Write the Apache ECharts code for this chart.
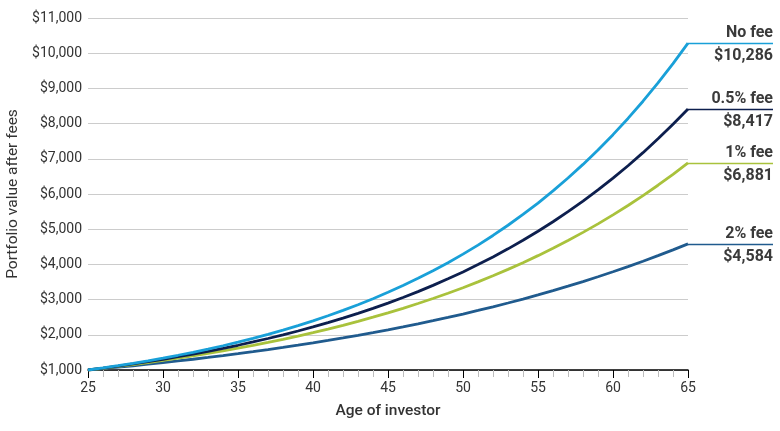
<!DOCTYPE html>
<html>
<head>
<meta charset="utf-8">
<script src="https://cdn.jsdelivr.net/npm/echarts@6/dist/echarts.min.js"></script>
<style>
  html, body { margin: 0; padding: 0; background: #fff; }
  #chart { width: 780px; height: 431px; }
</style>
</head>
<body>
<div id="chart"></div>
<script>
// ages 25..65
const ages = [25, 26, 27, 28, 29, 30, 31, 32, 33, 34, 35, 36, 37, 38, 39, 40, 41, 42, 43, 44, 45,
  46, 47, 48, 49, 50, 51, 52, 53, 54, 55, 56, 57, 58, 59, 60, 61, 62, 63, 64, 65];

const noFee = [1000, 1060, 1124, 1191, 1262, 1338, 1419, 1504, 1594, 1689, 1791, 1898, 2012, 2133,
  2261, 2397, 2540, 2693, 2854, 3026, 3207, 3400, 3604, 3820, 4049, 4292, 4549, 4822, 5112, 5418,
  5743, 6088, 6453, 6841, 7251, 7686, 8147, 8636, 9154, 9704, 10286];
const halfFee = [1000, 1055, 1112, 1173, 1237, 1305, 1377, 1452, 1531, 1615, 1703, 1797, 1895, 1998,
  2108, 2223, 2345, 2473, 2608, 2751, 2901, 3060, 3227, 3404, 3590, 3787, 3994, 4212, 4442, 4685,
  4942, 5212, 5497, 5798, 6115, 6449, 6802, 7174, 7567, 7981, 8417];
const oneFee = [1000, 1049, 1101, 1156, 1213, 1273, 1336, 1402, 1471, 1543, 1620, 1700, 1784, 1872,
  1964, 2061, 2163, 2270, 2382, 2500, 2623, 2753, 2889, 3032, 3181, 3338, 3503, 3676, 3858, 4049,
  4249, 4459, 4679, 4910, 5152, 5407, 5674, 5954, 6249, 6557, 6881];
const twoFee = [1000, 1039, 1079, 1121, 1165, 1210, 1257, 1305, 1356, 1409, 1463, 1520, 1579, 1640,
  1704, 1770, 1839, 1910, 1984, 2061, 2141, 2224, 2311, 2400, 2493, 2590, 2691, 2795, 2903, 3016,
  3133, 3255, 3381, 3512, 3648, 3790, 3937, 4090, 4248, 4413, 4584];

const seriesNames = ['No fee', '0.5% fee', '1% fee', '2% fee'];
const seriesData = [noFee, halfFee, oneFee, twoFee];
const colors = ['#19a0d8', '#0d1f4e', '#a9c23c', '#205b8e'];

const FONT = 'Roboto, "Liberation Sans", sans-serif';
const TEXT = '#333333';

const chart = echarts.init(document.getElementById('chart'));

const option = {
  animation: false,
  grid: { left: 88, right: 92, top: 18, bottom: 61, outerBoundsMode: 'none', containLabel: false },
  xAxis: {
    type: 'value',
    min: 25,
    max: 65,
    interval: 5,
    name: 'Age of investor',
    nameLocation: 'middle',
    nameGap: 33,
    nameTextStyle: { color: TEXT, fontFamily: FONT, fontSize: 15.5, fontWeight: 500 },
    axisLine: { show: true, lineStyle: { color: '#000', width: 1.5 } },
    axisTick: { show: true, length: 8, lineStyle: { color: '#000', width: 1 } },
    minorTick: { show: true, splitNumber: 5, length: 7, lineStyle: { color: '#bdbdbd', width: 1 } },
    axisLabel: { color: TEXT, fontFamily: FONT, fontSize: 14, margin: 11 },
    splitLine: { show: false }
  },
  yAxis: {
    type: 'value',
    min: 1000,
    max: 11000,
    interval: 1000,
    name: 'Portfolio value after fees',
    nameLocation: 'middle',
    nameGap: 66,
    nameTextStyle: { color: TEXT, fontFamily: FONT, fontSize: 15.5 },
    axisLine: { show: false },
    axisTick: { show: false },
    axisLabel: {
      color: TEXT, fontFamily: FONT, fontSize: 14, margin: 6,
      formatter: v => '$' + v.toLocaleString('en-US')
    },
    splitLine: { show: true, lineStyle: { color: '#cccccc', width: 1 } }
  },
  series: seriesNames.map((name, i) => ({
    name: name,
    type: 'line',
    data: ages.map((a, j) => [a, seriesData[i][j]]),
    symbol: 'none',
    smooth: false,
    z: 10 - i,
    lineStyle: { color: colors[i], width: 2.8 }
  }))
};

chart.setOption(option);

// right-side annotations placed via the chart's own scales
const rightEdge = 773;
const graphics = [];
seriesNames.forEach((name, i) => {
  const last = seriesData[i][seriesData[i].length - 1];
  const p = chart.convertToPixel({ gridIndex: 0 }, [ages[ages.length - 1], last]);
  const y = Math.round(p[1]) + 0.5;
  graphics.push({
    type: 'line',
    shape: { x1: p[0], y1: y, x2: rightEdge, y2: y },
    style: { stroke: colors[i], lineWidth: 1.3 }
  });
  graphics.push({
    type: 'text',
    x: rightEdge, y: y - 3,
    style: {
      text: name, align: 'right', verticalAlign: 'bottom',
      fill: '#3a3a3a', font: 'bold 16px ' + FONT
    }
  });
  graphics.push({
    type: 'text',
    x: rightEdge, y: y + 4,
    style: {
      text: '$' + last.toLocaleString('en-US'), align: 'right', verticalAlign: 'top',
      fill: '#3a3a3a', font: 'bold 16px ' + FONT
    }
  });
});
chart.setOption({ graphic: graphics });
</script>
</body>
</html>
